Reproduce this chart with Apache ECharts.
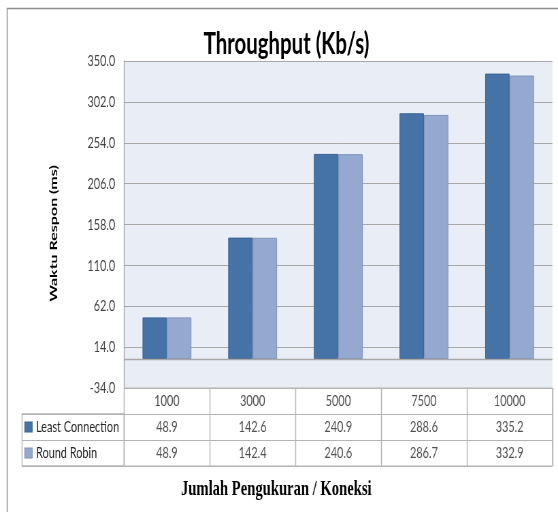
<!DOCTYPE html>
<html>
<head>
<meta charset="utf-8">
<script src="https://cdn.jsdelivr.net/npm/echarts@6/dist/echarts.min.js"></script>
<style>
  html, body { margin: 0; padding: 0; overflow: hidden; background: #fff; width: 558px; height: 512px; }
  #main { width: 820px; height: 512px; transform: scaleX(0.6805); transform-origin: 0 0; }
</style>
</head>
<body>
<div id="main"></div>
<script>
// ---- data ----
const categories = ['1000', '3000', '5000', '7500', '10000'];
const seriesNames = ['Least Connection', 'Round Robin'];
const leastConnection = [48.9, 142.6, 240.9, 288.6, 335.2];
const roundRobin = [48.9, 142.4, 240.6, 286.7, 332.9];
const yMin = -34, yMax = 350, yStep = 48;
const chartTitle = 'Throughput (Kb/s)';
const yTitle = 'Waktu Respon (ms)';
const xTitle = 'Jumlah Pengukuran / Koneksi';

// ---- styles ----
const colors = ['#4572a7', '#94a8d0'];
const borders = ['#3b6393', '#7d92bc'];
const gridLine = '#a8a8a8';
const tableLine = '#b4b4b4';
const txt = '#262626';
const labelFont = 'Lato';

const chart = echarts.init(document.getElementById('main'), null, { renderer: 'canvas' });
const allValues = [leastConnection, roundRobin];

const tableRows = [''].concat(seriesNames);
const cellData = [];
categories.forEach((c, i) => cellData.push({ value: [i, 0], label: { formatter: c } }));
allValues.forEach((arr, r) => arr.forEach((v, i) => cellData.push({ value: [i, r + 1], label: { formatter: v.toFixed(1) } })));

const rich = {};
colors.forEach((c, i) => {
  rich['k' + i] = { width: 10, height: 9, backgroundColor: c, borderColor: borders[i], borderWidth: 1 };
});
rich.t = { fontFamily: labelFont, fontSize: 16, color: txt, padding: [0, 0, 0, 6] };

const option = {
  animation: false,
  backgroundColor: '#ffffff',
  graphic: [
    { type: 'rect', shape: { x: 10.5, y: 8.5, width: 900, height: 600 }, style: { fill: 'none', stroke: '#8f8f8f', lineWidth: 1.5 }, silent: true, z: 0 },
    { type: 'text', x: 421, y: 44, style: { text: chartTitle, font: 'bold 30px Lato', fill: '#000', align: 'center', verticalAlign: 'middle' } },
    { type: 'text', x: 406, y: 489, style: { text: xTitle, font: 'bold 21.5px "Liberation Serif"', fill: '#000', align: 'center', verticalAlign: 'middle' } }
  ],
  grid: [
    { left: 182.4, top: 61, width: 629.4, height: 327, show: true, backgroundColor: '#e9edf5', borderWidth: 0 },
    { left: 182.4, top: 388, width: 629.4, height: 78, show: true, backgroundColor: 'transparent', borderColor: tableLine, borderWidth: 1 },
    { left: 32.4, top: 414, width: 150, height: 52, show: true, backgroundColor: 'transparent', borderColor: tableLine, borderWidth: 1.4 }
  ],
  xAxis: [
    { type: 'category', gridIndex: 0, data: categories, axisLabel: { show: false }, axisTick: { show: false }, axisLine: { show: false } },
    { type: 'category', gridIndex: 1, data: categories, axisLabel: { show: false }, axisTick: { show: false }, axisLine: { show: false },
      splitLine: { show: true, interval: 0, lineStyle: { color: tableLine, width: 1.4 } } },
    { type: 'value', gridIndex: 2, show: false, min: 0, max: 1 }
  ],
  yAxis: [
    { type: 'value', gridIndex: 0, min: yMin, max: yMax, interval: yStep,
      name: yTitle, nameLocation: 'middle', nameGap: 96, nameRotate: 90,
      nameTextStyle: { fontFamily: labelFont, fontWeight: 'bold', fontSize: 16, color: '#000', padding: [0, 18, 0, 0] },
      axisLabel: { formatter: v => v.toFixed(1), fontFamily: labelFont, fontSize: 16, color: '#404040', margin: 13 },
      axisLine: { show: true, lineStyle: { color: gridLine, width: 1.4 } },
      axisTick: { show: false },
      splitLine: { show: true, lineStyle: { color: gridLine, width: 1 } } },
    { type: 'category', gridIndex: 1, data: tableRows, inverse: true, axisLabel: { show: false }, axisTick: { show: false }, axisLine: { show: false },
      splitLine: { show: true, interval: 0, lineStyle: { color: tableLine, width: 1 } } },
    { type: 'category', gridIndex: 2, data: seriesNames, inverse: true, axisTick: { show: false }, axisLine: { show: false },
      splitLine: { show: true, interval: 0, lineStyle: { color: tableLine, width: 1 } },
      axisLabel: { inside: true, margin: 4.5, interval: 0, align: 'left',
        formatter: (v, i) => '{k' + i + '|}{t|' + v + '}', rich: rich } }
  ],
  series: [
    { name: seriesNames[0], type: 'bar', xAxisIndex: 0, yAxisIndex: 0, data: leastConnection, barGap: '0%', barCategoryGap: '43%',
      itemStyle: { color: colors[0], borderColor: borders[0], borderWidth: 1 },
      markLine: { silent: true, symbol: 'none', label: { show: false }, lineStyle: { color: gridLine, type: 'solid', width: 1.4 }, data: [{ yAxis: 0 }] },
      z: 3 },
    { name: seriesNames[1], type: 'bar', xAxisIndex: 0, yAxisIndex: 0, data: roundRobin, barGap: '0%', barCategoryGap: '43%',
      itemStyle: { color: colors[1], borderColor: borders[1], borderWidth: 1 }, z: 3 },
    { type: 'scatter', xAxisIndex: 1, yAxisIndex: 1, data: cellData, symbolSize: 1, itemStyle: { color: 'transparent' }, silent: true,
      label: { show: true, position: 'inside', fontFamily: labelFont, fontSize: 16, color: txt } }
  ]
};
chart.setOption(option);
</script>
</body>
</html>
